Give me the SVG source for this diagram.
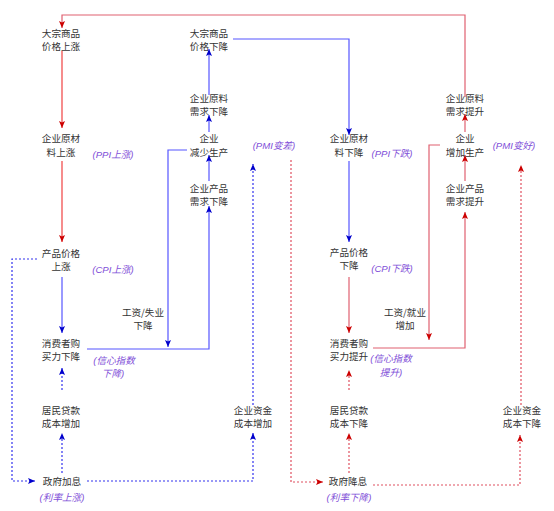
<svg xmlns="http://www.w3.org/2000/svg" width="554" height="511" viewBox="0 0 554 511">
<style>
.t{font-family:"Noto Sans CJK SC","Noto Sans",sans-serif;font-size:9.6px;fill:#333;text-anchor:middle}
.p{font-family:"Liberation Sans","Noto Sans CJK SC",sans-serif;font-size:9.6px;fill:#7F4FD8;font-style:italic;text-anchor:middle}
.r{fill:none;stroke:#F04040;stroke-width:1.2}
.r2{fill:none;stroke:#E06070;stroke-width:1.2}
.b{fill:none;stroke:#5555FF;stroke-width:1.2}
.bd{fill:none;stroke:#3333EE;stroke-width:1.2;stroke-dasharray:2 2}
.rd{fill:none;stroke:#E05060;stroke-width:1.2;stroke-dasharray:2 2}
</style>
<defs>
<marker id="ar" markerUnits="userSpaceOnUse" markerWidth="8" markerHeight="8" refX="7" refY="3" orient="auto"><path d="M0,0 L7,3 L0,6 L1.5,3 z" fill="#CC0000"/></marker>
<marker id="ab" markerUnits="userSpaceOnUse" markerWidth="8" markerHeight="8" refX="7" refY="3" orient="auto"><path d="M0,0 L7,3 L0,6 L1.5,3 z" fill="#0000CC"/></marker>
</defs>
<rect width="554" height="511" fill="#fff"/>
<g id="connectors">
<path class="r2" d="M465,97 V15 H62 V28" marker-end="url(#ar)"/>
<path class="r" d="M62,51 V128" marker-end="url(#ar)"/>
<path class="r" d="M62,161 V242" marker-end="url(#ar)"/>
<path class="r2" d="M349,277 V333" marker-end="url(#ar)"/>
<path class="r2" d="M465,132 V114" marker-end="url(#ar)"/>
<path class="r2" d="M465,181 V155" marker-end="url(#ar)"/>
<path class="r2" d="M440,145 H429 V340" marker-end="url(#ar)"/>
<path class="r2" d="M373,348 H465 V212" marker-end="url(#ar)"/>
<path class="b" d="M62,277 V333" marker-end="url(#ab)"/>
<path class="b" d="M209,95 V49" marker-end="url(#ab)"/>
<path class="b" d="M209,132 V115" marker-end="url(#ab)"/>
<path class="b" d="M209,181 V155" marker-end="url(#ab)"/>
<path class="b" d="M187,150 H168 V347" marker-end="url(#ab)"/>
<path class="b" d="M87,349 H209 V206" marker-end="url(#ab)"/>
<path class="b" d="M233,39 H349 V135" marker-end="url(#ab)"/>
<path class="b" d="M349,161 V242" marker-end="url(#ab)"/>
<path class="bd" d="M62,390 V368" marker-end="url(#ab)"/>
<path class="bd" d="M62,473 V433" marker-end="url(#ab)"/>
<path class="bd" d="M37,259 H12 V481 H35" marker-end="url(#ab)"/>
<path class="bd" d="M87,481 H253 V433" marker-end="url(#ab)"/>
<path class="bd" d="M253,405 V164" marker-end="url(#ab)"/>
<path class="rd" d="M349,390 V370" marker-end="url(#ar)"/>
<path class="rd" d="M349,473 V433" marker-end="url(#ar)"/>
<path class="rd" d="M291,160 V482 H323" marker-end="url(#ar)"/>
<path class="rd" d="M373,485 H520 V435" marker-end="url(#ar)"/>
<path class="rd" d="M521,405 V165" marker-end="url(#ar)"/>
</g>
<g id="n_commodity_up"><text class="t" x="61" y="36.5">大宗商品<tspan x="61" dy="13">价格上涨</tspan></text></g>
<g id="n_raw_up"><text class="t" x="61" y="142">企业原材<tspan x="61" dy="14">料上涨</tspan></text></g>
<g id="n_price_up"><text class="t" x="61" y="257">产品价格<tspan x="61" dy="13">上涨</tspan></text></g>
<g id="n_consumer_down"><text class="t" x="61" y="347">消费者购<tspan x="61" dy="13">买力下降</tspan></text></g>
<g id="n_loan_up"><text class="t" x="61" y="413.5">居民贷款<tspan x="61" dy="13">成本增加</tspan></text></g>
<g id="n_hike"><text class="t" x="62" y="485">政府加息</text></g>
<g id="n_commodity_down"><text class="t" x="209" y="36.5">大宗商品<tspan x="209" dy="13">价格下降</tspan></text></g>
<g id="n_rawdemand_down"><text class="t" x="209" y="101.5">企业原料<tspan x="209" dy="13">需求下降</tspan></text></g>
<g id="n_prod_down"><text class="t" x="209" y="142">企业<tspan x="209" dy="14">减少生产</tspan></text></g>
<g id="n_demand_down"><text class="t" x="209" y="192">企业产品<tspan x="209" dy="13">需求下降</tspan></text></g>
<g id="n_wage_down"><text class="t" x="143" y="316">工资/失业<tspan x="143" dy="13">下降</tspan></text></g>
<g id="n_fund_up"><text class="t" x="253" y="413.5">企业资金<tspan x="253" dy="13">成本增加</tspan></text></g>
<g id="n_raw_down"><text class="t" x="349" y="142">企业原材<tspan x="349" dy="14">料下降</tspan></text></g>
<g id="n_price_down"><text class="t" x="349" y="256">产品价格<tspan x="349" dy="13">下降</tspan></text></g>
<g id="n_consumer_up"><text class="t" x="349" y="347">消费者购<tspan x="349" dy="13">买力提升</tspan></text></g>
<g id="n_loan_down"><text class="t" x="349" y="413.5">居民贷款<tspan x="349" dy="13">成本下降</tspan></text></g>
<g id="n_cut"><text class="t" x="348" y="485">政府降息</text></g>
<g id="n_rawdemand_up"><text class="t" x="465" y="101.5">企业原料<tspan x="465" dy="13">需求提升</tspan></text></g>
<g id="n_prod_up"><text class="t" x="465" y="142">企业<tspan x="465" dy="14">增加生产</tspan></text></g>
<g id="n_demand_up"><text class="t" x="465" y="192">企业产品<tspan x="465" dy="13">需求提升</tspan></text></g>
<g id="n_wage_up"><text class="t" x="405" y="316">工资/就业<tspan x="405" dy="13">增加</tspan></text></g>
<g id="n_fund_down"><text class="t" x="522" y="413.5">企业资金<tspan x="522" dy="13">成本下降</tspan></text></g>
<g id="labels">
<text class="p" x="113" y="158">(PPI上涨)</text>
<text class="p" x="113" y="273">(CPI上涨)</text>
<text class="p" x="114" y="364">(信心指数<tspan x="113" dy="13">下降)</tspan></text>
<text class="p" x="62" y="501">(利率上涨)</text>
<text class="p" x="274" y="149">(PMI变差)</text>
<text class="p" x="392" y="157">(PPI下跌)</text>
<text class="p" x="392" y="272">(CPI下跌)</text>
<text class="p" x="391" y="362">(信心指数<tspan x="391" dy="14">提升)</tspan></text>
<text class="p" x="349" y="501">(利率下降)</text>
<text class="p" x="514" y="149">(PMI变好)</text>
</g>
</svg>
